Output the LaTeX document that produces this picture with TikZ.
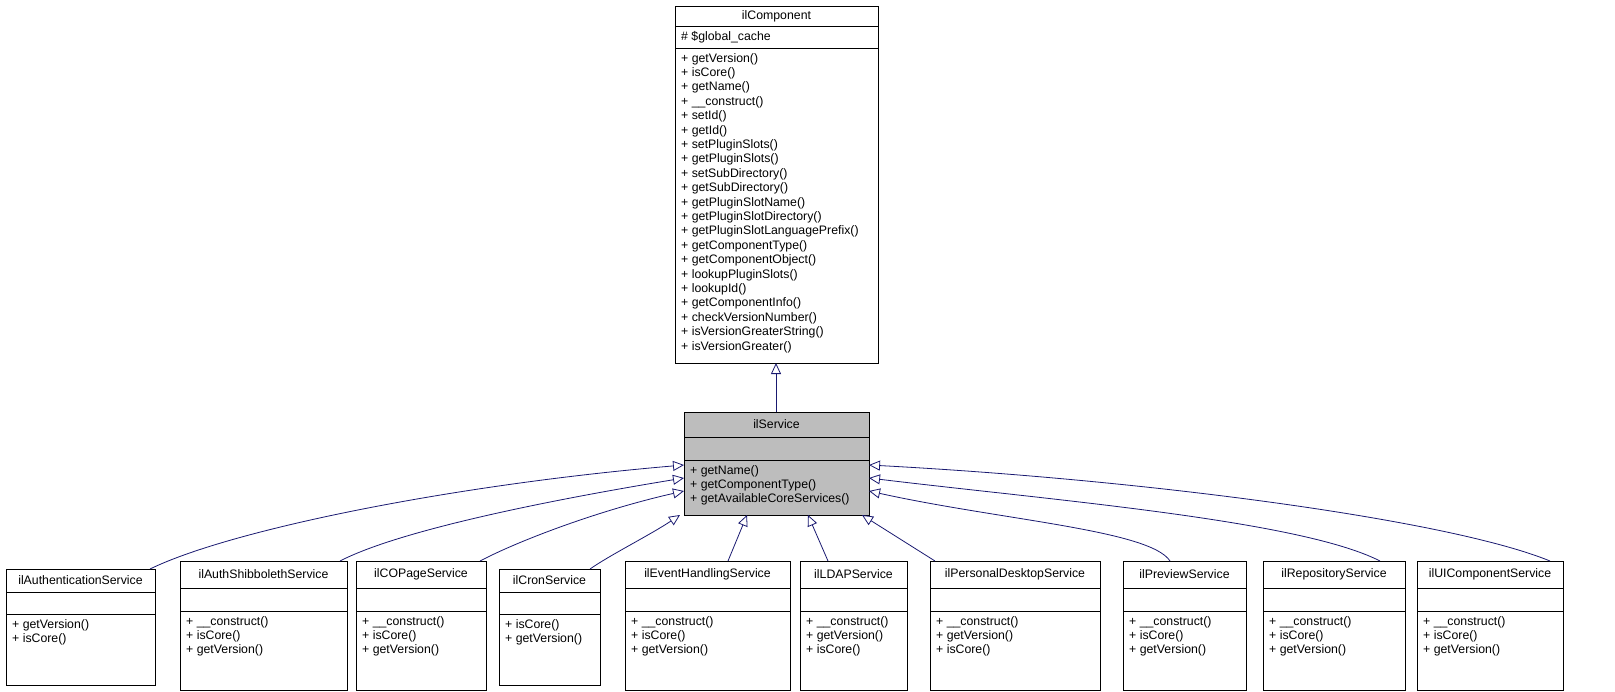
\documentclass[tikz,border=0pt]{standalone}
\usepackage{fontspec}
\setmainfont{Liberation Sans}
\usetikzlibrary{arrows.meta}
\definecolor{edge}{RGB}{25,25,112}
\tikzset{
 box/.style={draw,line width=0.9pt,inner sep=0pt,anchor=north west},
 txt/.style={font=\fontsize{12.3}{14.4}\selectfont,inner sep=0pt},
 mem/.style={txt,anchor=north west,align=left},
 inh/.style={draw=edge,line width=0.8pt,{Triangle[open,length=11pt,width=10pt]}-},
}
\def\boxfill{white}
% name x1 x2 ytop y1 y2 ybot title methods
\newcommand\umlbox[9]{%
 \node[box,minimum width=#3-#2,minimum height=#7-#4,fill=\boxfill] (#1) at (#2,#4) {};
 \draw[line width=0.9pt] (#2,#5) -- (#3,#5);
 \draw[line width=0.9pt] (#2,#6) -- (#3,#6);
 \node[txt] (#1t) at ({(#2+#3)/2},{(#4+#5)/2}) {#8};
 \node[mem] (#1m) at (#2+6,#6+5) {#9};
}
\begin{document}
\begin{tikzpicture}[x=1pt,y=-1pt]
\useasboundingbox (0,0) rectangle (1615,691);
\umlbox{comp}{675}{878}{6}{26}{48}{363}{ilComponent}{+ getVersion()\\+ isCore()\\+ getName()\\+ \_\_construct()\\+ setId()\\+ getId()\\+ setPluginSlots()\\+ getPluginSlots()\\+ setSubDirectory()\\+ getSubDirectory()\\+ getPluginSlotName()\\+ getPluginSlotDirectory()\\+ getPluginSlotLanguagePrefix()\\+ getComponentType()\\+ getComponentObject()\\+ lookupPluginSlots()\\+ lookupId()\\+ getComponentInfo()\\+ checkVersionNumber()\\+ isVersionGreaterString()\\+ isVersionGreater()}
\node[mem] (compa) at (681,31) {\# \$global\_cache};
\def\boxfill{black!26}
\umlbox{svc}{684}{869}{412}{437}{460}{515}{ilService}{+ getName()\\+ getComponentType()\\+ getAvailableCoreServices()}
\def\boxfill{white}
\umlbox{auth}{6}{155}{569}{592}{614}{685}{ilAuthenticationService}{+ getVersion()\\+ isCore()}
\umlbox{shib}{180}{347}{561}{588}{611}{690}{ilAuthShibbolethService}{+ \_\_construct()\\+ isCore()\\+ getVersion()}
\umlbox{cop}{356}{486}{561}{588}{611}{690}{ilCOPageService}{+ \_\_construct()\\+ isCore()\\+ getVersion()}
\umlbox{cron}{499}{600}{569}{592}{614}{685}{ilCronService}{+ isCore()\\+ getVersion()}
\umlbox{evt}{625}{790}{561}{588}{611}{690}{ilEventHandlingService}{+ \_\_construct()\\+ isCore()\\+ getVersion()}
\umlbox{ldap}{800}{907}{561}{588}{611}{690}{ilLDAPService}{+ \_\_construct()\\+ getVersion()\\+ isCore()}
\umlbox{pd}{930}{1100}{561}{588}{611}{690}{ilPersonalDesktopService}{+ \_\_construct()\\+ getVersion()\\+ isCore()}
\umlbox{prev}{1123}{1246}{561}{588}{611}{690}{ilPreviewService}{+ \_\_construct()\\+ isCore()\\+ getVersion()}
\umlbox{repo}{1263}{1405}{561}{588}{611}{690}{ilRepositoryService}{+ \_\_construct()\\+ isCore()\\+ getVersion()}
\umlbox{ui}{1417}{1563}{561}{588}{611}{690}{ilUIComponentService}{+ \_\_construct()\\+ isCore()\\+ getVersion()}
\coordinate (c0) at (776,363);
\coordinate (s1) at (684,465);
\coordinate (s2) at (684,478);
\coordinate (s3) at (684,491);
\coordinate (s4) at (680,515);
\coordinate (s5) at (747,515);
\coordinate (s6) at (808,515);
\coordinate (s7) at (862,515);
\coordinate (s8) at (869,491);
\coordinate (s9) at (869,478);
\coordinate (s10) at (869,465);
\draw[inh] (c0) -- (svc.north -| c0);
\draw[inh] (s1) .. controls (450,485) and (230,530) .. (auth.north -| 150,0);
\draw[inh] (s2) .. controls (550,500) and (400,530) .. (shib.north -| 340,0);
\draw[inh] (s3) .. controls (600,510) and (520,540) .. (cop.north -| 480,0);
\draw[inh] (s4) .. controls (650,535) and (610,555) .. (cron.north -| 590,0);
\draw[inh] (s5) -- (evt.north -| 728,0);
\draw[inh] (s6) -- (ldap.north -| 828,0);
\draw[inh] (s7) -- (pd.north -| 935,0);
\draw[inh] (s8) .. controls (1000,520) and (1150,530) .. (prev.north -| 1170,0);
\draw[inh] (s9) .. controls (1050,500) and (1300,520) .. (repo.north -| 1380,0);
\draw[inh] (s10) .. controls (1150,480) and (1450,520) .. (ui.north -| 1550,0);
\end{tikzpicture}
\end{document}
